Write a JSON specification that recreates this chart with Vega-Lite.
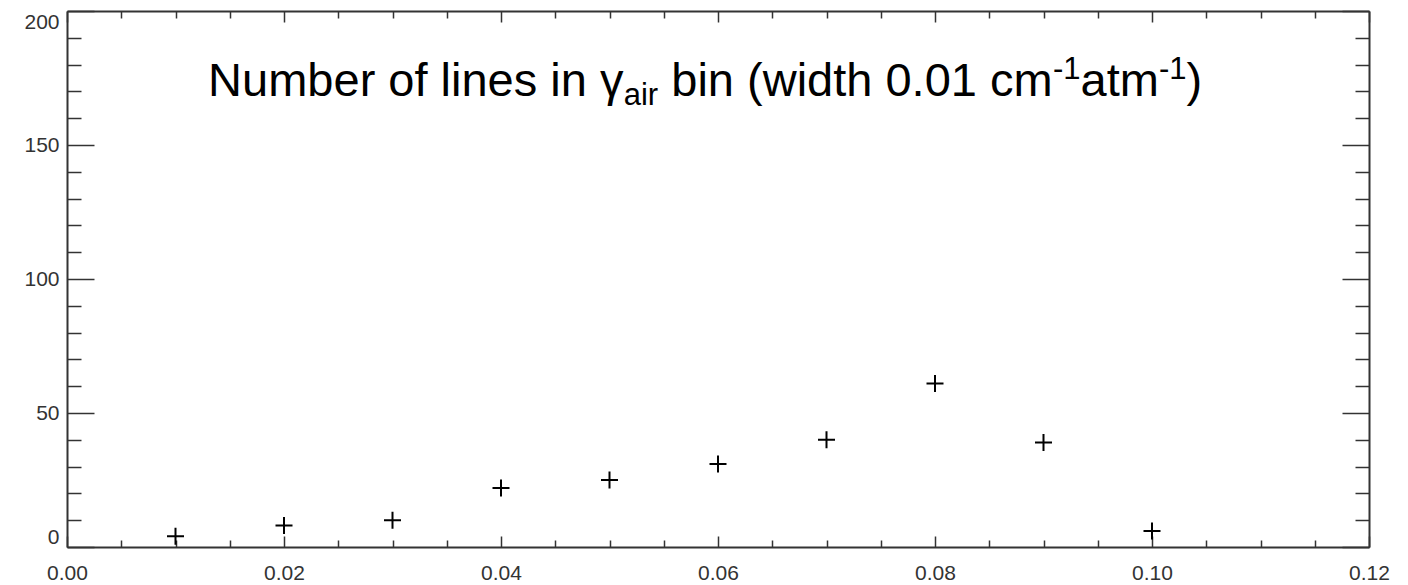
{
  "$schema": "https://vega.github.io/schema/vega-lite/v6.json",
  "width": 1302,
  "height": 536,
  "autosize": "none",
  "padding": {"left": 67, "top": 11, "right": 39, "bottom": 38},
  "background": "white",
  "config": {
    "view": {"stroke": null},
    "axis": {
      "grid": false,
      "title": null,
      "domainColor": "#333333",
      "domainWidth": 2,
      "tickColor": "#333333",
      "tickWidth": 1.5,
      "labelFont": "Liberation Sans",
      "labelFontSize": 21,
      "labelColor": "#333333",
      "labelOverlap": false
    }
  },
  "data": {
    "values": [
      {"gamma": 0.01, "count": 4},
      {"gamma": 0.02, "count": 8},
      {"gamma": 0.03, "count": 10},
      {"gamma": 0.04, "count": 22},
      {"gamma": 0.05, "count": 25},
      {"gamma": 0.06, "count": 31},
      {"gamma": 0.07, "count": 40},
      {"gamma": 0.08, "count": 61},
      {"gamma": 0.09, "count": 39},
      {"gamma": 0.10, "count": 6}
    ]
  },
  "layer": [
    {
      "mark": {"type": "point", "shape": "M-1,0L1,0M0,-1L0,1", "filled": false, "color": "#000000", "strokeWidth": 2, "size": 289, "opacity": 1},
      "encoding": {
        "x": {
          "field": "gamma", "type": "quantitative",
          "scale": {"domain": [0, 0.12], "nice": false, "zero": false},
          "axis": {
            "orient": "bottom",
            "values": [0,0.005,0.01,0.015,0.02,0.025,0.03,0.035,0.04,0.045,0.05,0.055,0.06,0.065,0.07,0.075,0.08,0.085,0.09,0.095,0.1,0.105,0.11,0.115,0.12],
            "tickSize": {"condition": {"test": "abs(datum.value*50-round(datum.value*50))<0.001", "value": -11}, "value": -7},
            "labelExpr": "abs(datum.value*50-round(datum.value*50))<0.001 ? format(datum.value, '.2f') : ''",
            "labelPadding": 26,
            "labelFlush": false,
            "labelBaseline": "top"
          }
        },
        "y": {
          "field": "count", "type": "quantitative",
          "scale": {"domain": [0, 200], "nice": false, "zero": false},
          "axis": {
            "orient": "left",
            "values": [0,10,20,30,40,50,60,70,80,90,100,110,120,130,140,150,160,170,180,190,200],
            "tickSize": {"condition": {"test": "datum.value % 50 === 0", "value": -27}, "value": -14},
            "labelExpr": "datum.value % 50 === 0 ? datum.label : ''",
            "labelPadding": 35,
            "labelFlush": true
          }
        }
      }
    },
    {
      "mark": {"type": "point", "shape": "M-1,0L1,0M0,-1L0,1", "filled": false, "color": "#000000", "strokeWidth": 2, "size": 289, "opacity": 0},
      "encoding": {
        "x": {
          "field": "gamma", "type": "quantitative",
          "scale": {"domain": [0, 0.12], "nice": false, "zero": false},
          "axis": {
            "orient": "top",
            "values": [0,0.005,0.01,0.015,0.02,0.025,0.03,0.035,0.04,0.045,0.05,0.055,0.06,0.065,0.07,0.075,0.08,0.085,0.09,0.095,0.1,0.105,0.11,0.115,0.12],
            "tickSize": {"condition": {"test": "abs(datum.value*50-round(datum.value*50))<0.001", "value": -11}, "value": -7},
            "labels": false
          }
        },
        "y": {
          "field": "count", "type": "quantitative",
          "scale": {"domain": [0, 200], "nice": false, "zero": false},
          "axis": {
            "orient": "right",
            "values": [0,10,20,30,40,50,60,70,80,90,100,110,120,130,140,150,160,170,180,190,200],
            "tickSize": {"condition": {"test": "datum.value % 50 === 0", "value": -27}, "value": -14},
            "labels": false
          }
        }
      }
    },
    {
      "data": {"values": [{}]},
      "mark": {"type": "text", "text": "Number of lines in γ", "font": "Liberation Sans", "fontSize": 47, "align": "left", "baseline": "alphabetic", "color": "#000000"},
      "encoding": {
        "x": {"datum": 0.013006, "type": "quantitative", "scale": {"domain": [0, 0.12], "nice": false, "zero": false}, "axis": null},
        "y": {"datum": 168.3, "type": "quantitative", "scale": {"domain": [0, 200], "nice": false, "zero": false}, "axis": null}
      }
    },
    {
      "data": {"values": [{}]},
      "mark": {"type": "text", "text": "air", "font": "Liberation Sans", "fontSize": 31, "align": "left", "baseline": "alphabetic", "color": "#000000"},
      "encoding": {
        "x": {"datum": 0.051311, "type": "quantitative", "scale": {"domain": [0, 0.12], "nice": false, "zero": false}, "axis": null},
        "y": {"datum": 164.9, "type": "quantitative", "scale": {"domain": [0, 200], "nice": false, "zero": false}, "axis": null}
      }
    },
    {
      "data": {"values": [{}]},
      "mark": {"type": "text", "text": "bin (width 0.01 cm", "font": "Liberation Sans", "fontSize": 47, "align": "left", "baseline": "alphabetic", "color": "#000000"},
      "encoding": {
        "x": {"datum": 0.055692, "type": "quantitative", "scale": {"domain": [0, 0.12], "nice": false, "zero": false}, "axis": null},
        "y": {"datum": 168.3, "type": "quantitative", "scale": {"domain": [0, 200], "nice": false, "zero": false}, "axis": null}
      }
    },
    {
      "data": {"values": [{}]},
      "mark": {"type": "text", "text": "-1", "font": "Liberation Sans", "fontSize": 31, "align": "left", "baseline": "alphabetic", "color": "#000000"},
      "encoding": {
        "x": {"datum": 0.09087, "type": "quantitative", "scale": {"domain": [0, 0.12], "nice": false, "zero": false}, "axis": null},
        "y": {"datum": 174.6, "type": "quantitative", "scale": {"domain": [0, 200], "nice": false, "zero": false}, "axis": null}
      }
    },
    {
      "data": {"values": [{}]},
      "mark": {"type": "text", "text": "atm", "font": "Liberation Sans", "fontSize": 47, "align": "left", "baseline": "alphabetic", "color": "#000000"},
      "encoding": {
        "x": {"datum": 0.093415, "type": "quantitative", "scale": {"domain": [0, 0.12], "nice": false, "zero": false}, "axis": null},
        "y": {"datum": 168.3, "type": "quantitative", "scale": {"domain": [0, 200], "nice": false, "zero": false}, "axis": null}
      }
    },
    {
      "data": {"values": [{}]},
      "mark": {"type": "text", "text": "-1", "font": "Liberation Sans", "fontSize": 31, "align": "left", "baseline": "alphabetic", "color": "#000000"},
      "encoding": {
        "x": {"datum": 0.100637, "type": "quantitative", "scale": {"domain": [0, 0.12], "nice": false, "zero": false}, "axis": null},
        "y": {"datum": 174.6, "type": "quantitative", "scale": {"domain": [0, 200], "nice": false, "zero": false}, "axis": null}
      }
    },
    {
      "data": {"values": [{}]},
      "mark": {"type": "text", "text": ")", "font": "Liberation Sans", "fontSize": 47, "align": "left", "baseline": "alphabetic", "color": "#000000"},
      "encoding": {
        "x": {"datum": 0.103183, "type": "quantitative", "scale": {"domain": [0, 0.12], "nice": false, "zero": false}, "axis": null},
        "y": {"datum": 168.3, "type": "quantitative", "scale": {"domain": [0, 200], "nice": false, "zero": false}, "axis": null}
      }
    }
  ],
  "resolve": {"axis": {"x": "independent", "y": "independent"}}
}
